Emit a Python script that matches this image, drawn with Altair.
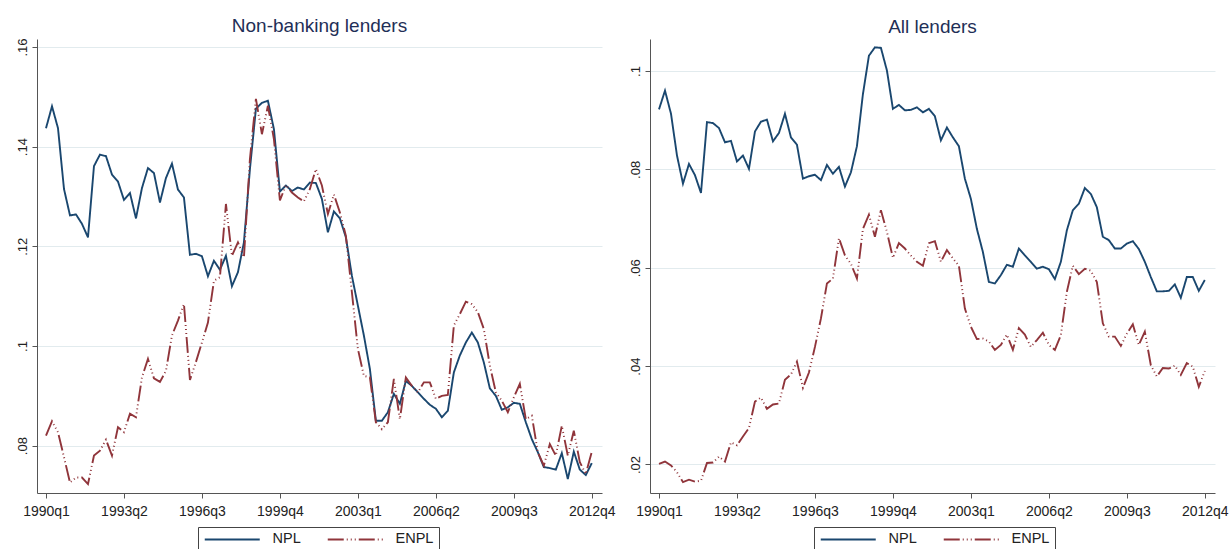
import altair as alt
import pandas as pd

# ---------------- data ----------------
tick_positions = [0, 13, 26, 39, 52, 65, 78, 91]
tick_labels = ['1990q1', '1993q2', '1996q3', '1999q4', '2003q1', '2006q2', '2009q3', '2012q4']
series_names = ['NPL', 'ENPL']
panel_titles = ['Non-banking lenders', 'All lenders']
left_yticks = [0.08, 0.10, 0.12, 0.14, 0.16]
right_yticks = [0.02, 0.04, 0.06, 0.08, 0.10]

left_npl = [
    .1437, .1481, .1437, .1315, .1262, .1264, .1245, .1218, .1361, .1384,
    .1381, .1344, .1330, .1293, .1307, .1256, .1317, .1357, .1347, .1288,
    .1337, .1366, .1314, .1298, .1183, .1185, .1180, .1140, .1171, .1153,
    .1181, .1120, .1148, .1208, .1355, .1476, .1488, .1492, .1435, .1310,
    .1322, .1311, .1318, .1314, .1328, .1327, .1295, .1228, .1270, .1256,
    .1218, .1141, .1081, .1021, .0954, .0850, .0850, .0867, .0904, .0884,
    .0930, .0920, .0907, .0894, .0882, .0874, .0857, .0870, .0947, .0981,
    .1007, .1027, .1007, .0967, .0915, .0900, .0872, .0877, .0886, .0884,
    .0847, .0813, .0787, .0757, .0755, .0752, .0785, .0733, .0788, .0752,
    .0741, .0765]
left_enpl = [
    .0820, .0849, .0827, .0777, .0726, .0736, .0736, .0723, .0780, .0790,
    .0812, .0780, .0837, .0827, .0864, .0857, .0937, .0974, .0935, .0928,
    .0950, .1021, .1051, .1084, .0932, .0968, .1007, .1047, .1131, .1138,
    .1285, .1181, .1208, .1178, .1375, .1496, .1425, .1482, .1415, .1292,
    .1323, .1308, .1298, .1290, .1315, .1355, .1322, .1265, .1304, .1268,
    .1221, .1108, .0994, .0940, .0937, .0847, .0833, .0847, .0934, .0853,
    .0937, .0920, .0907, .0927, .0927, .0894, .0900, .0902, .1041, .1064,
    .1089, .1084, .1068, .1034, .0961, .0907, .0890, .0867, .0897, .0924,
    .0853, .0860, .0787, .0760, .0803, .0780, .0840, .0780, .0830, .0767,
    .0743, .0788]
right_npl = [
    .0922, .0960, .0913, .0828, .0771, .0811, .0788, .0752, .0896, .0894,
    .0884, .0855, .0858, .0816, .0828, .0801, .0877, .0897, .0901, .0857,
    .0874, .0913, .0865, .0850, .0781, .0786, .0789, .0778, .0809, .0791,
    .0805, .0765, .0794, .0847, .0953, .1031, .1048, .1047, .1001, .0923,
    .0931, .0920, .0921, .0926, .0916, .0923, .0908, .0859, .0885, .0865,
    .0847, .0781, .0740, .0679, .0632, .0571, .0568, .0585, .0606, .0602,
    .0639, .0625, .0612, .0598, .0602, .0597, .0577, .0612, .0676, .0717,
    .0730, .0762, .0750, .0723, .0663, .0656, .0639, .0639, .0649, .0654,
    .0638, .0612, .0581, .0552, .0552, .0553, .0566, .0539, .0581, .0581,
    .0553, .0575]
right_enpl = [
    .0201, .0206, .0198, .0184, .0164, .0169, .0165, .0167, .0203, .0204,
    .0216, .0206, .0245, .0239, .0257, .0274, .0328, .0336, .0313, .0322,
    .0324, .0372, .0383, .0409, .0356, .0387, .0439, .0497, .0568, .0578,
    .0660, .0625, .0608, .0578, .0679, .0708, .0663, .0717, .0673, .0620,
    .0650, .0639, .0625, .0612, .0604, .0650, .0654, .0612, .0636, .0619,
    .0604, .0517, .0480, .0455, .0456, .0450, .0433, .0443, .0464, .0433,
    .0477, .0464, .0439, .0453, .0468, .0443, .0433, .0463, .0551, .0604,
    .0587, .0598, .0594, .0571, .0487, .0460, .0460, .0441, .0466, .0485,
    .0443, .0470, .0402, .0379, .0396, .0395, .0401, .0382, .0406, .0399,
    .0358, .0390]

NPL_COLOR = '#1a476f'
ENPL_COLOR = '#90353b'


def panel_df(npl, enpl):
    rows = []
    for k, (name, vals) in enumerate(((series_names[0], npl), (series_names[1], enpl))):
        for i, v in enumerate(vals):
            rows.append({'q': i, 'series': name, 'value': v, 'ord': k})
    return pd.DataFrame(rows)


x_label_expr = ''.join(
    f"datum.value == {p} ? '{l}' : " for p, l in zip(tick_positions, tick_labels)
) + "''"
y_label_expr = "replace(format(datum.value, '.2~f'), '0.', '.')"


def make_panel(df, title, ydomain, yticks, legend_x):
    legend = alt.Legend(
        title=None, orient='none', legendX=legend_x, legendY=488,
        direction='horizontal', symbolType='M-1,0H9', symbolSize=121,
        symbolStrokeWidth=2, strokeColor='#444', padding=5,
        labelFontSize=14.5, labelOffset=55, columnPadding=22,
        labelColor='#222', symbolOpacity=1,
    )
    return alt.Chart(df).mark_line(strokeWidth=1.9).encode(
        x=alt.X('q:Q',
                scale=alt.Scale(domain=[-1.5, 92.7], nice=False, zero=False),
                axis=alt.Axis(values=tick_positions, labelExpr=x_label_expr,
                              title=None, grid=False, labelFlush=False,
                              labelPadding=6, labelOverlap=False,
                              labelFontSize=14)),
        y=alt.Y('value:Q',
                scale=alt.Scale(domain=ydomain, nice=False, zero=False),
                axis=alt.Axis(values=yticks, labelExpr=y_label_expr, title=None,
                              grid=True, labelAngle=270, labelAlign='center',
                              labelBaseline='alphabetic', labelPadding=6,
                              labelFontSize=13)),
        color=alt.Color('series:N',
                        scale=alt.Scale(domain=series_names,
                                        range=[NPL_COLOR, ENPL_COLOR]),
                        legend=legend),
        strokeDash=alt.StrokeDash('series:N',
                                  scale=alt.Scale(domain=series_names,
                                                  range=[[1, 0], [16, 3, 1, 3, 1, 3, 1, 3]]),
                                  legend=legend),
        order=alt.Order('ord:Q'),
    ).properties(
        width=565, height=454,
        title=alt.TitleParams(title, anchor='middle', frame='group',
                              baseline='alphabetic', offset=-13),
    )


left = make_panel(panel_df(left_npl, left_enpl), panel_titles[0],
                  [0.0705, 0.1616], left_yticks, 161)
right = make_panel(panel_df(right_npl, right_enpl), panel_titles[1],
                   [0.0142, 0.1065], right_yticks, 164)

chart = alt.hconcat(left, right, spacing=48, bounds='flush').resolve_scale(
    color='independent', strokeDash='independent', x='independent', y='independent'
).resolve_legend(
    color='independent', strokeDash='independent'
).properties(
    padding={'left': 16, 'top': 16, 'right': 0, 'bottom': 0}
).configure(
    font='Liberation Sans', background='white'
).configure_view(
    stroke=None
).configure_axis(
    domainColor='#555', tickColor='#555', domainWidth=1, tickWidth=1,
    tickSize=5, labelColor='#222', gridColor='#e2ebee', gridWidth=1,
).configure_title(
    fontSize=19, fontWeight='normal', color='#1f2f57', font='Liberation Sans'
)

chart.save('out.html', embed_options={'renderer': 'svg', 'actions': False})
